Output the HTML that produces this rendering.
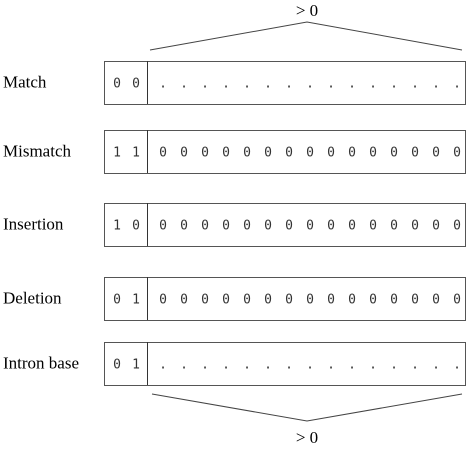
<!DOCTYPE html>
<html><head><meta charset="utf-8"><style>
body{margin:0;background:#fff}
svg text{font-family:"Liberation Serif",serif;font-size:17px;fill:#000}
svg text.m{font-family:"DejaVu Sans Mono","Liberation Mono",monospace;font-size:13px;fill:#333}
</style></head><body>
<svg id="c" width="471" height="446">
<polyline points="150,50 307,22 462,50" fill="none" stroke="#444" stroke-width="1"/>
<text x="307" y="16" text-anchor="middle">&gt; 0</text>
<polyline points="152,394 307,421 462,394" fill="none" stroke="#444" stroke-width="1"/>
<text x="307" y="443" text-anchor="middle">&gt; 0</text>
</svg>
<script>
const labels=["Match","Mismatch","Insertion","Deletion","Intron base"];
const prefixes=[["0","0"],["1","1"],["1","0"],["0","1"],["0","1"]];
const fills=[".","0","0","0","."];
const tops=[61,130,203,277,342];
const svg=document.getElementById('c');
const NS="http://www.w3.org/2000/svg";
function mk(t,a){const e=document.createElementNS(NS,t);for(const k in a)e.setAttribute(k,a[k]);svg.appendChild(e);return e;}
labels.forEach((lab,i)=>{
  const y=tops[i],h=43,cy=y+h/2+5;
  const t=mk('text',{x:3,y:cy});t.textContent=lab;
  
  
  const r=mk('rect',{x:104.5,y:y+0.5,width:361,height:h,fill:'#fff',stroke:'#555'});
  
  
  const l=mk('line',{x1:147.5,y1:y,x2:147.5,y2:y+h,stroke:'#333'});
  
  
  prefixes[i].forEach((p,j)=>{
    const pt=mk('text',{x:117+j*19,y:cy,'text-anchor':'middle',class:'m'});pt.textContent=p;
    
    
  });
  for(let k=0;k<15;k++){
    const ct=mk('text',{x:163+k*21,y:cy,'text-anchor':'middle',class:'m'});ct.textContent=fills[i];
    
    
  }
});
</script>
</body></html>
